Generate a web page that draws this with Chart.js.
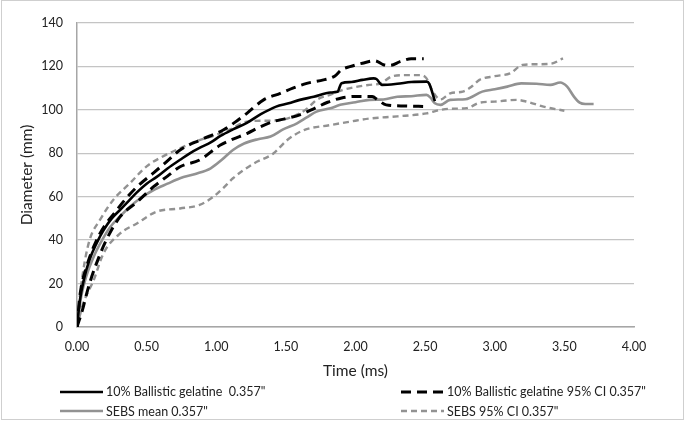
<!DOCTYPE html>
<html>
<head>
<meta charset="utf-8">
<script src="https://cdn.jsdelivr.net/npm/chart.js@4.4.0/dist/chart.umd.min.js"></script>
<style>
  html, body { margin: 0; padding: 0; background: #fff; }
  #wrap { position: relative; width: 685px; height: 424px; overflow: hidden; }
  #frame { position: absolute; left: 1px; top: 0; width: 681px; height: 418px; border: 1px solid #cfcfcf; pointer-events: none; }
  #legend { position: absolute; left: 0; top: 0; width: 685px; height: 424px; pointer-events: none;
            font-family: Lato, "Open Sans", sans-serif; font-size: 12.5px; color: #222; }
  .item { position: absolute; display: flex; align-items: center; white-space: pre; }
  .item svg { margin-right: 3px; }
</style>
</head>
<body>
<div id="wrap">
  <canvas id="chart" width="685" height="424"></canvas>
  <div id="legend"></div>
  <div id="frame"></div>
</div>
<script>
// 10% ballistic gelatine, mean
const gelMeanTime = [0, 0.02, 0.05, 0.09, 0.14, 0.19, 0.25, 0.31, 0.37, 0.43, 0.5, 0.57, 0.65, 0.74, 0.81, 0.88, 0.96, 1.03, 1.12, 1.22, 1.32, 1.43, 1.52, 1.6, 1.7, 1.82, 1.87, 1.9, 1.97, 2.05, 2.13, 2.15, 2.19, 2.3, 2.4, 2.51, 2.53, 2.57];
const gelMean = [0, 12, 22, 31, 38.5, 44.5, 50, 54, 58, 62, 66, 69, 73, 77, 80, 82.5, 85, 88, 91, 94, 98, 101.5, 103, 104.6, 106, 108, 108.3, 112.3, 112.8, 113.8, 114.5, 114.2, 111.5, 112, 112.8, 113, 112, 104];

// 10% ballistic gelatine, 95% CI upper / lower
const gelUpperTime = [0, 0.02, 0.035, 0.06, 0.09, 0.12, 0.16, 0.21, 0.27, 0.33, 0.43, 0.55, 0.65, 0.74, 0.88, 1.05, 1.15, 1.22, 1.34, 1.46, 1.55, 1.65, 1.77, 1.85, 1.9, 1.96, 2.05, 2.14, 2.2, 2.25, 2.32, 2.4, 2.49];
const gelUpper = [0, 14, 20, 26, 32, 37, 42.5, 47.7, 52.5, 57.5, 64.5, 71, 76.5, 81.5, 86, 90.7, 95, 98.4, 104.6, 107.6, 110, 112.2, 113.8, 115.5, 118.5, 119.9, 121.5, 122.6, 120.8, 120.5, 122.2, 123.5, 123.5];
const gelLowerTime = [0, 0.04, 0.07, 0.1, 0.14, 0.21, 0.31, 0.43, 0.55, 0.65, 0.74, 0.88, 1.03, 1.12, 1.22, 1.31, 1.41, 1.5, 1.6, 1.7, 1.8, 1.9, 2.0, 2.12, 2.16, 2.22, 2.35, 2.51];
const gelLower = [0, 8, 15.5, 22, 29.3, 40, 50.8, 57.5, 64.6, 69.5, 73.8, 76.9, 83.8, 86.5, 89.1, 92, 94.6, 96, 97.7, 100.5, 103.5, 105.5, 106.2, 106.1, 104.6, 102.3, 101.8, 101.5];

// SEBS, mean
const sebsMeanTime = [0, 0.03, 0.07, 0.12, 0.18, 0.24, 0.31, 0.38, 0.46, 0.55, 0.65, 0.74, 0.85, 0.96, 1.04, 1.12, 1.2, 1.3, 1.39, 1.48, 1.58, 1.65, 1.72, 1.82, 1.89, 2.0, 2.1, 2.2, 2.3, 2.4, 2.51, 2.54, 2.57, 2.61, 2.68, 2.79, 2.91, 3.0, 3.09, 3.19, 3.3, 3.4, 3.47, 3.52, 3.57, 3.61, 3.65, 3.71];
const sebsMean = [0, 14, 24, 32.4, 40, 46.2, 51, 55.4, 59.5, 63.1, 66, 68.5, 70.5, 73.1, 77, 81.5, 84.5, 86.5, 87.7, 91, 93.8, 96.5, 99.2, 100.7, 102.3, 103.5, 104.6, 104.8, 106, 106.3, 106.9, 105.5, 103, 102.3, 104.6, 104.9, 108.4, 109.5, 110.7, 112.2, 112, 111.5, 112.6, 110.7, 106, 103.3, 102.7, 102.7];

// SEBS, 95% CI upper / lower
const sebsUpperTime = [0, 0.01, 0.045, 0.09, 0.165, 0.26, 0.38, 0.5, 0.6, 0.74, 0.88, 1.0, 1.1, 1.22, 1.35, 1.46, 1.6, 1.66, 1.72, 1.82, 1.9, 2.0, 2.1, 2.18, 2.27, 2.36, 2.46, 2.51, 2.55, 2.61, 2.68, 2.77, 2.83, 2.89, 3.0, 3.11, 3.2, 3.3, 3.4, 3.49];
const sebsUpper = [0, 7.8, 26, 40, 49.3, 58.5, 66.2, 74, 78, 82.3, 86.1, 88.5, 91, 94.6, 95, 95.3, 98.4, 101, 104.6, 107, 109, 110.5, 111.5, 112.2, 115.6, 116, 116, 114.5, 109, 104.8, 107.6, 108.4, 110.5, 113.8, 115.5, 116.8, 120.7, 121, 121.2, 123.7];
const sebsLowerTime = [0, 0.045, 0.12, 0.19, 0.31, 0.43, 0.57, 0.74, 0.88, 0.98, 1.05, 1.12, 1.27, 1.41, 1.51, 1.63, 1.82, 2.0, 2.1, 2.3, 2.51, 2.61, 2.68, 2.8, 2.89, 3.0, 3.16, 3.23, 3.35, 3.5];
const sebsLower = [0, 10.9, 21.6, 33.9, 43.1, 47.7, 53.1, 54.6, 56.2, 60, 64, 68.5, 75.3, 79.9, 86.1, 90.7, 93, 95, 96, 97, 98.4, 100, 100.5, 100.8, 103.3, 103.8, 104.6, 103.8, 101.5, 99.6];

const xTicks = [0, 0.5, 1, 1.5, 2, 2.5, 3, 3.5, 4];

const BLACK = '#000000';
const GREY = '#929292';

const toPoints = (times, values) => times.map((t, i) => ({ x: t, y: values[i] }));

const series = (label, times, values, color, width, dash, showInLegend) => ({
    label: label,
    data: toPoints(times, values),
    borderColor: color,
    borderWidth: width,
    borderDash: dash,
    pointRadius: 0,
    fill: false,
    cubicInterpolationMode: 'monotone',
    showInLegend: showInLegend
});

const datasets = [
    series('10% Ballistic gelatine  0.357"', gelMeanTime, gelMean, BLACK, 2.6, [], true),
    series('10% Ballistic gelatine 95% CI 0.357"', gelUpperTime, gelUpper, BLACK, 3, [10, 6], true),
    series('10% Ballistic gelatine 95% CI 0.357" (lower)', gelLowerTime, gelLower, BLACK, 3, [10, 6], false),
    series('SEBS mean 0.357"', sebsMeanTime, sebsMean, GREY, 2.6, [], true),
    series('SEBS 95% CI 0.357"', sebsUpperTime, sebsUpper, GREY, 2.4, [6, 4], true),
    series('SEBS 95% CI 0.357" (lower)', sebsLowerTime, sebsLower, GREY, 2.4, [6, 4], false)
];

const tickFont = { family: 'Lato, "Open Sans", sans-serif', size: 12.5 };
const titleFont = { family: 'Lato, "Open Sans", sans-serif', size: 15.5 };

const chart = new Chart(document.getElementById('chart').getContext('2d'), {
    type: 'line',
    data: { datasets: datasets },
    options: {
        responsive: false,
        animation: false,
        layout: { padding: { left: 0, right: 51, top: 23, bottom: 44 } },
        plugins: { legend: { display: false }, tooltip: { enabled: false } },
        scales: {
            x: {
                type: 'linear',
                min: 0,
                max: 4,
                afterFit: (scale) => { scale.height = 53; },
                afterBuildTicks: (scale) => { scale.ticks = xTicks.map(v => ({ value: v })); },
                ticks: { font: tickFont, color: '#222', padding: 12, maxRotation: 0,
                         callback: (v) => v.toFixed(2) },
                grid: { display: false, drawTicks: false },
                border: { display: true, color: '#a6a6a6', width: 1.5 },
                title: { display: true, text: 'Time (ms)', font: titleFont, color: '#222',
                         padding: { top: 0, bottom: 0 } }
            },
            y: {
                min: 0,
                max: 140,
                afterFit: (scale) => { scale.width = 77; },
                ticks: { stepSize: 20, font: tickFont, color: '#222', padding: 14 },
                grid: { color: '#c4c4c4', lineWidth: 1.3, drawTicks: false },
                border: { display: true, color: '#a6a6a6', width: 1.5 },
                title: { display: true, text: 'Diameter (mm)', font: titleFont, color: '#222',
                         padding: { top: 18, bottom: 0 } }
            }
        }
    }
});

// Legend in two columns, like the original
const legendSpots = [
    { left: 60, top: 391.5 },
    { left: 401, top: 391.5 },
    { left: 60, top: 411 },
    { left: 401, top: 411 }
];
const legend = document.getElementById('legend');
datasets.filter(d => d.showInLegend).forEach((d, i) => {
    const spot = legendSpots[i];
    const item = document.createElement('div');
    item.className = 'item';
    item.style.left = spot.left + 'px';
    item.style.top = (spot.top - 8) + 'px';
    item.style.height = '16px';
    const dash = d.borderDash.length ? d.borderDash.join(' ') : 'none';
    item.innerHTML =
        '<svg width="43" height="6"><line x1="0" y1="3" x2="43" y2="3" stroke="' + d.borderColor +
        '" stroke-width="' + d.borderWidth + '" stroke-dasharray="' + dash + '"/></svg>';
    const text = document.createElement('span');
    text.textContent = d.label;
    item.appendChild(text);
    legend.appendChild(item);
});
</script>
</body>
</html>
